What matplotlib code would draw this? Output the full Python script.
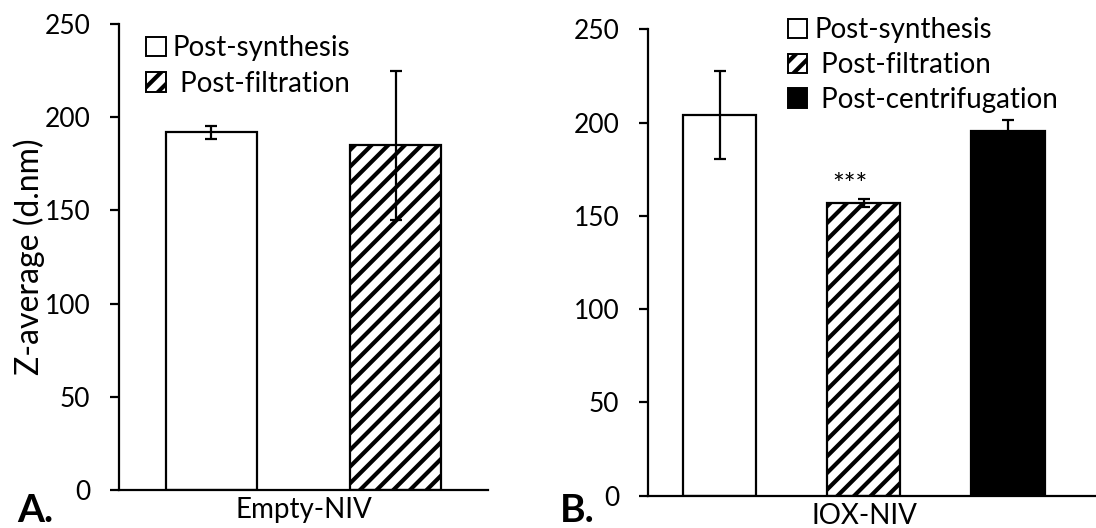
import numpy as np
import matplotlib
matplotlib.use("Agg")
import matplotlib.pyplot as plt
from matplotlib.patches import Patch

plt.rcParams['font.family'] = ['Lato', 'DejaVu Sans']
plt.rcParams['hatch.linewidth'] = 3.0

# panel A: Empty-NIV
labels_a = ['Post-synthesis', ' Post-filtration']
values_a = [192, 185]
errors_a = [3.5, 40]

# panel B: IOX-NIV
labels_b = ['Post-synthesis', ' Post-filtration', ' Post-centrifugation']
values_b = [204, 157, 195.5]
errors_b = [23.5, 2, 6]
signif_b = ['', '***', '']

fills = ['white', 'white', 'black']
hatches = ['', '//', '']

fig = plt.figure(figsize=(10.96, 5.28), dpi=100)
ax_a = fig.add_axes([0.1086, 0.0720, 0.3367, 0.8826])
ax_b = fig.add_axes([0.5912, 0.0612, 0.4088, 0.8833])


def draw_panel(ax, values, errors, labels, width, xlim, category):
    x = np.arange(len(values))
    handles = []
    for i, v in enumerate(values):
        ax.bar(x[i], v, width=width, color=fills[i], hatch=hatches[i],
               edgecolor='black', linewidth=1.6, zorder=2)
        ax.errorbar(x[i], v, yerr=errors[i], fmt='none', ecolor='black',
                    elinewidth=1.6, capsize=4, capthick=1.6, zorder=3)
        handles.append(Patch(facecolor=fills[i], hatch=hatches[i],
                             edgecolor='black', linewidth=1.4, label=labels[i]))
    ax.set_xlim(*xlim)
    ax.set_ylim(0, 250)
    ax.set_yticks([0, 50, 100, 150, 200, 250])
    for s in ['top', 'right']:
        ax.spines[s].set_visible(False)
    ax.spines['left'].set_linewidth(1.6)
    ax.spines['bottom'].set_linewidth(1.6)
    ax.tick_params(axis='y', length=6.5, width=1.6, pad=14, labelsize=19)
    ax.set_xticks([(len(values) - 1) / 2])
    ax.set_xticklabels([category])
    ax.tick_params(axis='x', length=0, pad=5, labelsize=20)
    ax.patch.set_alpha(0)
    return handles


h_a = draw_panel(ax_a, values_a, errors_a, labels_a, 0.493, (-0.5, 1.5), 'Empty-NIV')
h_b = draw_panel(ax_b, values_b, errors_b, labels_b, 0.507, (-0.5, 2.611), 'IOX-NIV')

ax_a.set_ylabel('Z-average (d.nm)', fontsize=23, labelpad=0)

ax_a.legend(handles=h_a, loc='upper left', bbox_to_anchor=(0.044, 1.0), frameon=False,
            fontsize=20, handlelength=0.7, handleheight=0.7, handletextpad=0.25,
            labelspacing=0.35, borderaxespad=0)
ax_b.legend(handles=h_b, loc='upper left', bbox_to_anchor=(0.287, 1.05), frameon=False,
            fontsize=20, handlelength=0.7, handleheight=0.7, handletextpad=0.25,
            labelspacing=0.32, borderaxespad=0)

for i, s in enumerate(signif_b):
    if s:
        ax_b.text(i - 0.1, values_b[i] + errors_b[i] + 7, s, ha='center', va='center',
                  fontsize=20)

fig.text(0.0155, 0.0, 'A.', fontsize=28, fontweight='bold', ha='left', va='bottom')
fig.text(0.5107, 0.0, 'B.', fontsize=28, fontweight='bold', ha='left', va='bottom')

fig.savefig('out.png', dpi=100)
